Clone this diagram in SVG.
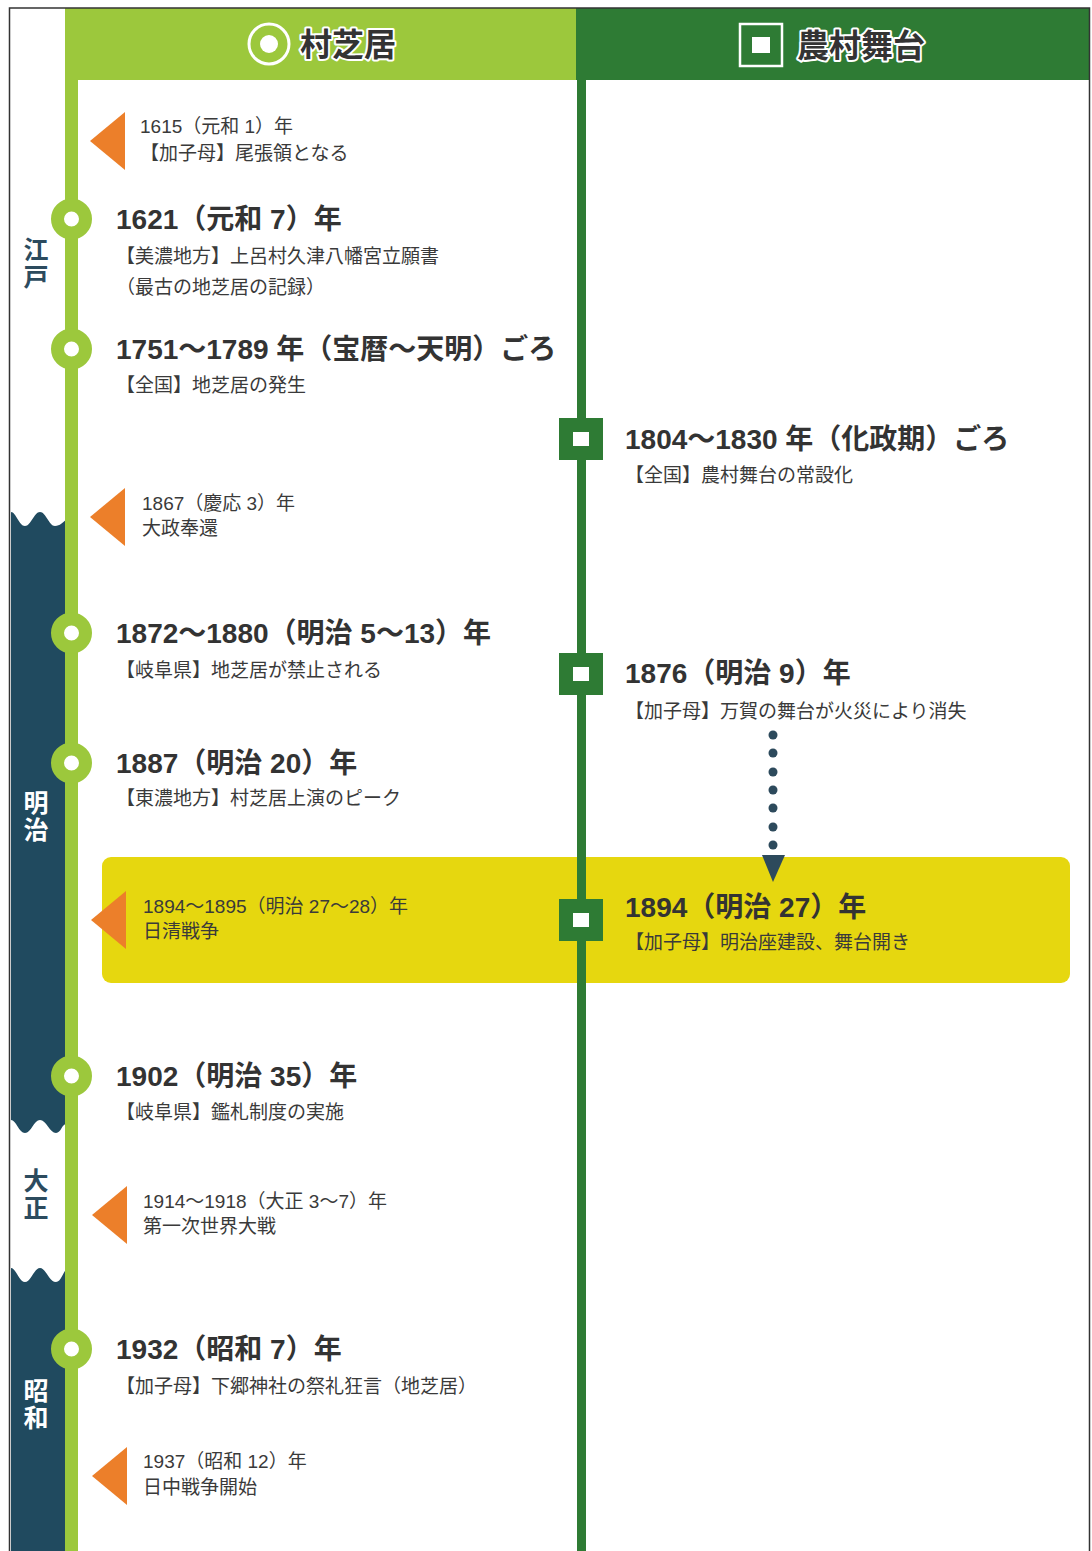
<svg xmlns="http://www.w3.org/2000/svg" width="1092" height="1551" viewBox="0 0 1092 1551">
<style>
text{font-family:"Liberation Sans","Noto Sans CJK JP",sans-serif}
.hd{font-size:28px;font-weight:bold;fill:#333}
.sb{font-size:19px;fill:#3a3a3a}
.ev{font-size:19px;fill:#3a3a3a}
.ttl{font-size:32px;font-weight:bold;fill:#333;stroke:#fff;stroke-width:4;stroke-linejoin:round;paint-order:stroke}
.era{font-size:25px;font-weight:bold;writing-mode:vertical-rl;letter-spacing:2px;font-family:"Noto Sans CJK JP",sans-serif}
.eraD{fill:#2c4b5e}
.eraL{fill:#fff}
.band{fill:#204a5f}
.tri{fill:#ec7f2a}
.cir{fill:#fff;stroke:#9cc83c;stroke-width:13}
.sq{fill:#fff;stroke:#2e7b34;stroke-width:14}
</style>
<defs>
<polygon id="tri" points="0,0 35,-29 35,29"/>
</defs>
<rect x="0" y="0" width="1092" height="1551" fill="#fff"/>
<g id="eras">
<path class="band" d="M11,512 C16,512 19,526 25,526 C31,526 34,512 40,512 C46,512 49,526 55,526 C60,526 63,522 66,520 L66,1124 C62,1124 61,1133 56,1133 C50,1133 46,1120 40,1120 C34,1120 31,1133 25,1133 C19,1133 16,1120 11,1120 Z"/>
<path class="band" d="M11,1268 C16,1268 19,1282 25,1282 C31,1282 34,1268 40,1268 C46,1268 49,1282 56,1282 C61,1282 63,1272 66,1270 L66,1551 L11,1551 Z"/>
<text class="era eraD" x="36" y="237">江戸</text>
<text class="era eraL" x="36" y="790">明治</text>
<text class="era eraD" x="36" y="1168">大正</text>
<text class="era eraL" x="36" y="1378">昭和</text>
</g>
<g id="header-left">
<rect x="65" y="8" width="511" height="72" fill="#9cc83c"/>
<circle cx="269" cy="44" r="20" fill="none" stroke="#fff" stroke-width="3"/>
<circle cx="269" cy="44" r="9" fill="#fff"/>
<text class="ttl" x="300" y="56">村芝居</text>
</g>
<g id="header-right">
<rect x="576" y="8" width="514" height="72" fill="#2e7b34"/>
<rect x="740" y="24" width="42" height="42" fill="none" stroke="#fff" stroke-width="2.5"/>
<rect x="752" y="37" width="18" height="16" fill="#fff"/>
<text class="ttl" x="797" y="57">農村舞台</text>
</g>
<rect id="highlight" x="102" y="857" width="968" height="126" rx="9" fill="#e6d70f"/>
<g id="connectors">
<line x1="71.5" y1="80" x2="71.5" y2="1551" stroke="#9cc83c" stroke-width="13"/>
<line x1="581.5" y1="80" x2="581.5" y2="1551" stroke="#2e7b34" stroke-width="9"/>
<g fill="#2d4a5c">
<circle cx="773" cy="735" r="4.5"/>
<circle cx="773" cy="753" r="4.5"/>
<circle cx="773" cy="772" r="4.5"/>
<circle cx="773" cy="790" r="4.5"/>
<circle cx="773" cy="808" r="4.5"/>
<circle cx="773" cy="827" r="4.5"/>
<circle cx="773" cy="845" r="4.5"/>
<polygon points="762,855 785,855 773,882"/>
</g>
</g>
<rect x="9.5" y="8" width="1080" height="1600" fill="none" stroke="#333" stroke-width="1.5"/>
<g id="e1615">
<use href="#tri" class="tri" x="90" y="141"/>
<text class="ev" x="140" y="133">1615（元和 1）年</text>
<text class="ev" x="140" y="160">【加子母】尾張領となる</text>
</g>
<g id="e1621">
<circle class="cir" cx="71.5" cy="219" r="14"/>
<text class="hd" x="116" y="229">1621（元和 7）年</text>
<text class="sb" x="116" y="263">【美濃地方】上呂村久津八幡宮立願書</text>
<text class="sb" x="116" y="294">（最古の地芝居の記録）</text>
</g>
<g id="e1751">
<circle class="cir" cx="71.5" cy="349" r="14"/>
<text class="hd" x="116" y="359">1751〜1789 年（宝暦〜天明）ごろ</text>
<text class="sb" x="116" y="392">【全国】地芝居の発生</text>
</g>
<g id="e1867">
<use href="#tri" class="tri" x="90" y="517"/>
<text class="ev" x="142" y="510">1867（慶応 3）年</text>
<text class="ev" x="142" y="535">大政奉還</text>
</g>
<g id="e1872">
<circle class="cir" cx="71.5" cy="633" r="14"/>
<text class="hd" x="116" y="643">1872〜1880（明治 5〜13）年</text>
<text class="sb" x="116" y="677">【岐阜県】地芝居が禁止される</text>
</g>
<g id="e1887">
<circle class="cir" cx="71.5" cy="763" r="14"/>
<text class="hd" x="116" y="773">1887（明治 20）年</text>
<text class="sb" x="116" y="805">【東濃地方】村芝居上演のピーク</text>
</g>
<g id="e1894war">
<use href="#tri" class="tri" x="91" y="920"/>
<text class="ev" x="143" y="913">1894〜1895（明治 27〜28）年</text>
<text class="ev" x="143" y="938">日清戦争</text>
</g>
<g id="e1902">
<circle class="cir" cx="71.5" cy="1076" r="14"/>
<text class="hd" x="116" y="1086">1902（明治 35）年</text>
<text class="sb" x="116" y="1119">【岐阜県】鑑札制度の実施</text>
</g>
<g id="e1914">
<use href="#tri" class="tri" x="92" y="1215"/>
<text class="ev" x="143" y="1208">1914〜1918（大正 3〜7）年</text>
<text class="ev" x="143" y="1233">第一次世界大戦</text>
</g>
<g id="e1932">
<circle class="cir" cx="71.5" cy="1349" r="14"/>
<text class="hd" x="116" y="1359">1932（昭和 7）年</text>
<text class="sb" x="116" y="1393">【加子母】下郷神社の祭礼狂言（地芝居）</text>
</g>
<g id="e1937">
<use href="#tri" class="tri" x="92" y="1476"/>
<text class="ev" x="143" y="1468">1937（昭和 12）年</text>
<text class="ev" x="143" y="1494">日中戦争開始</text>
</g>
<g id="e1804">
<rect class="sq" x="566" y="425" width="30" height="28"/>
<text class="hd" x="625" y="449">1804〜1830 年（化政期）ごろ</text>
<text class="sb" x="625" y="482">【全国】農村舞台の常設化</text>
</g>
<g id="e1876">
<rect class="sq" x="566" y="660" width="30" height="28"/>
<text class="hd" x="625" y="683">1876（明治 9）年</text>
<text class="sb" x="625" y="718">【加子母】万賀の舞台が火災により消失</text>
</g>
<g id="e1894">
<rect class="sq" x="566" y="906" width="30" height="28"/>
<text class="hd" x="625" y="917">1894（明治 27）年</text>
<text class="sb" x="625" y="949">【加子母】明治座建設、舞台開き</text>
</g>
</svg>
